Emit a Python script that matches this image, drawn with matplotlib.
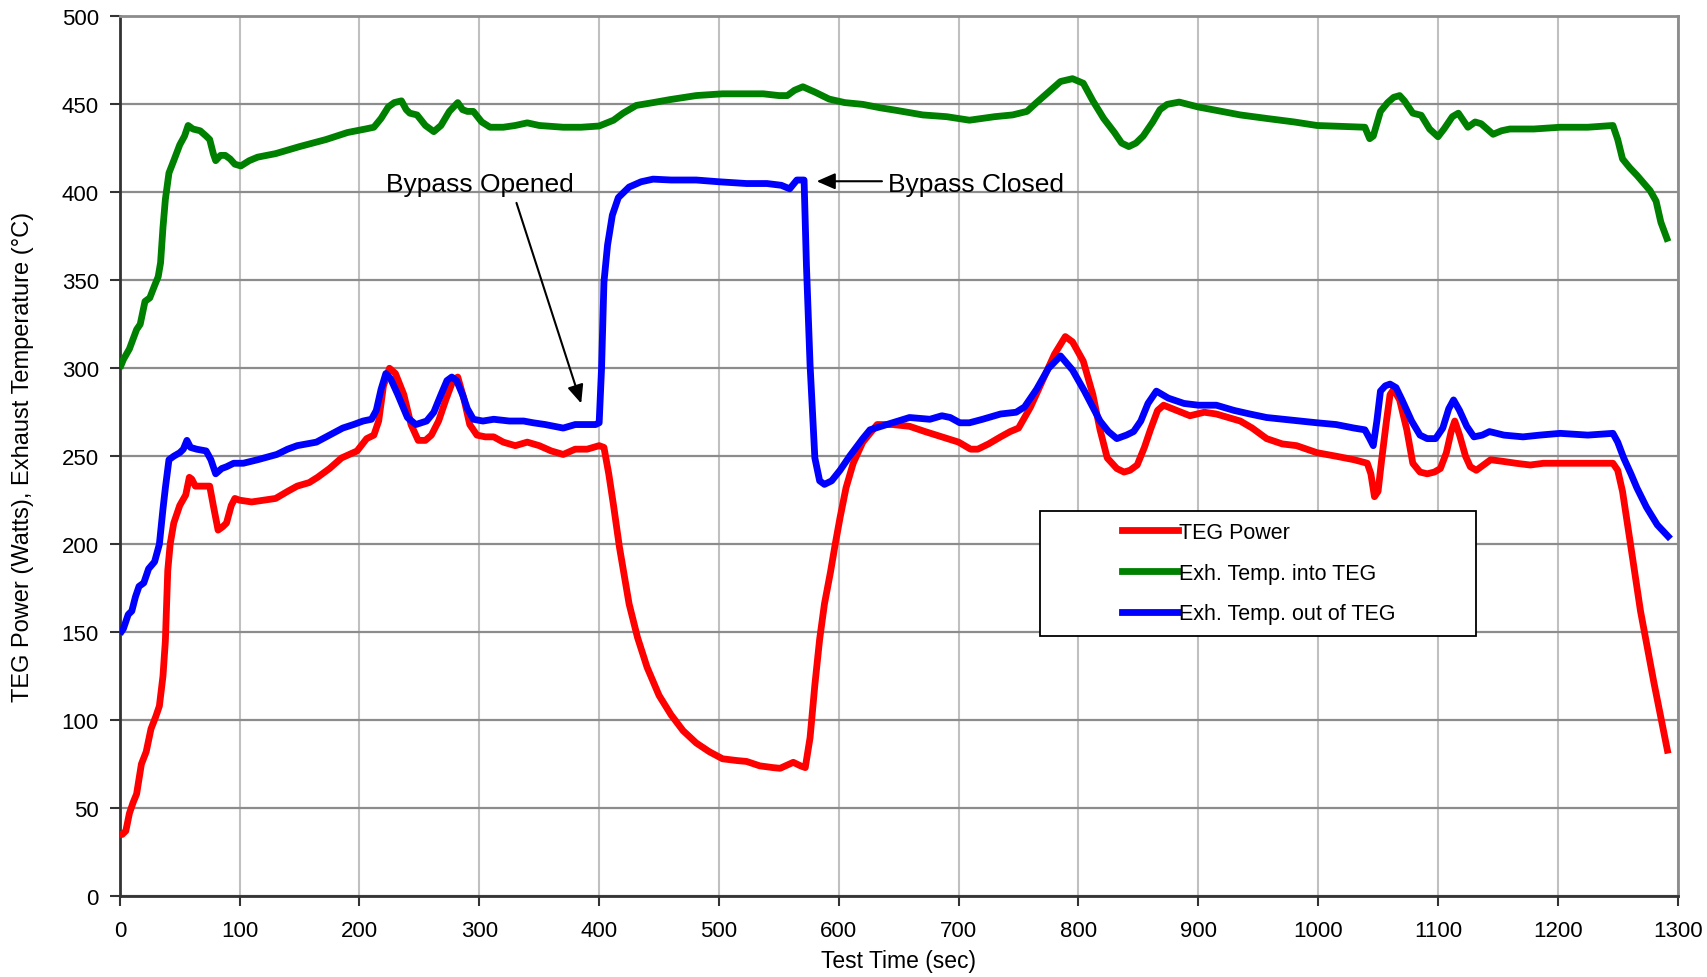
import matplotlib
matplotlib.use("Agg")
import matplotlib.pyplot as plt
from matplotlib.lines import Line2D
from matplotlib.patches import Rectangle

plt.rcParams['font.family'] = ['Liberation Sans', 'DejaVu Sans']

# TEG Power (W)
power_t = [0, 2, 5, 8, 11, 14, 18, 22, 26, 30, 33, 36, 38, 40, 42, 45, 50, 55, 58, 60,
           63, 68, 75, 78, 82, 86, 89, 93, 96, 100, 110, 120, 130, 140, 148, 158, 165, 175, 185, 198,
           206, 212, 216, 220, 225, 230, 237, 243, 249, 255, 260, 266, 272, 278, 282, 287, 292, 298, 305, 312,
           320, 330, 340, 350, 360, 370, 380, 390, 400, 404, 408, 412, 417, 425, 432, 440, 450, 460, 470, 481,
           492, 503, 515, 523, 534, 545, 551, 562, 568, 572, 576, 580, 584, 588, 593, 597, 601, 606, 612, 620,
           632, 645, 659, 672, 686, 700, 710, 716, 725, 735, 743, 750, 760, 770, 780, 789, 795, 804, 812, 818,
           824, 832, 838, 843, 849, 855, 860, 866, 871, 882, 893, 905, 915, 925, 935, 945, 957, 970, 982, 999,
           1015, 1030, 1041, 1044, 1047, 1050, 1053, 1057, 1060, 1063, 1068, 1074, 1079, 1085, 1091, 1097, 1102, 1107, 1111, 1114,
           1118, 1123, 1127, 1132, 1138, 1144, 1155, 1165, 1177, 1188, 1199, 1210, 1222, 1235, 1246, 1250, 1254, 1260, 1269, 1280,
           1292]
power_w = [35, 35, 37, 47, 53, 58, 75, 82, 95, 102, 108, 125, 145, 185, 200, 212, 222, 228, 238, 237,
           233, 233, 233, 222, 208, 210, 212, 222, 226, 225, 224, 225, 226, 230, 233, 235, 238, 243, 249, 253,
           260, 262, 270, 290, 300, 297, 285, 268, 259, 259, 262, 270, 282, 293, 295, 283, 268, 262, 261, 261,
           258, 256, 258, 256, 253, 251, 254, 254, 256, 255, 240, 222, 198, 166, 147, 130, 114, 103, 94, 87,
           82, 78, 77, 76.5, 74, 73, 72.6, 76, 74, 73, 90, 120, 146, 166, 184, 200, 215, 232, 246, 258,
           268, 268, 267, 264, 261, 258, 254, 254, 257, 261, 264, 266, 278, 293, 308, 318, 315, 304, 285, 265,
           249, 243, 241, 242, 245, 255, 265, 276, 279, 276, 273, 275, 274, 272, 270, 266, 260, 257, 256, 252,
           250, 248, 246, 240, 227, 230, 248, 270, 285, 288, 282, 265, 246, 241, 240, 241, 243, 252, 264, 270,
           262, 250, 244, 242, 245, 248, 247, 246, 245, 246, 246, 246, 246, 246, 246, 242, 230, 203, 162, 122,
           81]

# Exhaust temperature into TEG (C)
t_in_t = [0, 3, 8, 14, 17, 21, 25, 29, 32, 34, 36, 38, 41, 45, 50, 54, 57, 61, 67, 72,
          75, 78, 80, 84, 88, 92, 96, 101, 108, 115, 130, 150, 172, 190, 205, 212, 218, 224, 229, 235,
          239, 242, 248, 255, 262, 268, 275, 282, 286, 290, 295, 302, 309, 320, 330, 340, 350, 370, 385, 400,
          412, 420, 431, 445, 459, 481, 503, 520, 537, 550, 557, 563, 570, 580, 592, 605, 620, 635, 648, 670,
          690, 709, 730, 745, 757, 765, 775, 785, 795, 804, 812, 821, 830, 836, 842, 848, 854, 862, 868, 874,
          884, 900, 915, 935, 957, 980, 999, 1020, 1039, 1043, 1046, 1052, 1058, 1063, 1068, 1072, 1079, 1086, 1093, 1100,
          1105, 1112, 1117, 1122, 1125, 1131, 1136, 1146, 1153, 1160, 1180, 1202, 1225, 1246, 1250, 1254, 1260, 1266, 1272, 1277,
          1282, 1286, 1292]
t_in_c = [300, 305, 311, 322, 325, 338, 340, 347, 352, 360, 380, 396, 411, 418, 427, 432, 438, 436, 435, 432,
          430, 422, 418, 421, 421, 419, 416, 415, 418, 420, 422, 426, 430, 434, 436, 437, 442, 448.5, 451, 452,
          447, 445, 444, 438, 434.5, 438, 446, 451, 447, 446, 446, 440, 437, 437, 438, 439.5, 438, 437, 437, 437.7,
          441, 445, 449.4, 451, 452.7, 455, 456, 456, 456, 455, 455, 458, 460, 457, 453, 451, 450, 448, 446.6, 444,
          443, 441, 443, 444, 446, 451, 457, 463, 464.6, 462, 452, 442, 434, 428, 426, 428, 432, 440, 447, 450,
          451.3, 448.5, 446.6, 444, 442, 440, 438, 437.5, 437, 430.5, 432, 446, 451, 454, 455, 452, 445, 443.8, 436, 431.6,
          436, 443, 445, 440, 437, 440, 439, 433, 435, 436, 436, 437, 437, 438, 430, 419, 414, 409.7, 405, 401,
          395, 383, 372]

# Exhaust temperature out of TEG (C)
t_out_t = [0, 3, 7, 10, 13, 16, 20, 24, 29, 33, 36, 38, 41, 45, 50, 53, 56, 59, 64, 72,
           76, 80, 85, 89, 95, 103, 115, 131, 140, 148, 164, 175, 186, 195, 203, 210, 214, 218, 222, 226,
           232, 240, 247, 256, 262, 268, 273, 277, 281, 286, 290, 295, 303, 312, 325, 337, 345, 355, 370, 380,
           390, 397, 400, 402, 404, 407, 411, 416, 425, 435, 445, 460, 481, 500, 523, 540, 552, 559, 565, 571,
           573, 576, 580, 584, 588, 594, 601, 609, 620, 626, 640, 659, 676, 686, 693, 701, 709, 720, 735, 748,
           755, 765, 775, 785, 795, 805, 818, 825, 832, 840, 846, 852, 858, 865, 875, 888, 900, 915, 930, 943,
           957, 971, 985, 999, 1015, 1030, 1039, 1043, 1046, 1049, 1052, 1056, 1060, 1065, 1070, 1078, 1085, 1091, 1098, 1104,
           1109, 1113, 1118, 1124, 1130, 1137, 1143, 1155, 1171, 1185, 1202, 1225, 1246, 1250, 1255, 1261, 1266, 1274, 1283, 1294]
t_out_c = [149, 152, 160, 162, 170, 176, 178, 186, 190, 200, 220, 232, 248, 250, 252, 254, 259, 255, 254, 253,
           248, 240, 243, 244, 246, 246, 248, 251, 254, 256, 258, 262, 266, 268, 270, 271, 276, 288, 297, 294,
           285, 272, 268, 270, 275, 285, 293, 295, 293, 285, 277, 271, 270, 271, 270, 270, 269, 268, 266, 268,
           268, 268, 269, 300, 349, 370, 387, 397, 403, 406, 407.5, 407, 407, 406, 405, 405, 404, 402, 407, 407,
           358, 302, 249, 236, 234, 236, 242, 250, 260, 265, 268, 272, 271, 273, 272, 269, 269, 271, 274, 275,
           278, 288, 300, 307, 299, 287, 270, 264, 260, 262, 264, 270, 280, 287, 283, 280, 279, 279, 276, 274,
           272, 271, 270, 269, 268, 266, 265, 260, 256, 270, 287, 290, 291, 289, 282, 270, 262, 260, 260, 266,
           277, 282, 276, 267, 261, 262, 264, 262, 261, 262, 263, 262, 263, 258, 249, 240, 232, 221, 211, 203]

series = [
    (power_t, power_w, '#ff0000', 'TEG Power'),
    (t_in_t, t_in_c, '#008000', 'Exh. Temp. into TEG'),
    (t_out_t, t_out_c, '#0000ff', 'Exh. Temp. out of TEG'),
]

fig = plt.figure(figsize=(17.07, 9.78), dpi=100)
ax = fig.add_axes([0.0702, 0.0828, 0.9126, 0.8994])

for t, v, c, lab in series:
    ax.plot(t, v, color=c, lw=4.9, solid_joinstyle='round', solid_capstyle='butt', zorder=3)

ax.set_xlim(0, 1300)
ax.set_ylim(0, 500)
ax.set_xticks(range(0, 1301, 100))
ax.set_yticks(range(0, 501, 50))

ax.set_axisbelow(True)
ax.yaxis.grid(True, color='#8c8c8c', lw=1.6)
ax.xaxis.grid(True, color='#c0c0c0', lw=1.5)

for side in ['left', 'bottom']:
    ax.spines[side].set_color('#333333')
    ax.spines[side].set_linewidth(2)
for side in ['top', 'right']:
    ax.spines[side].set_color('#8c8c8c')
    ax.spines[side].set_linewidth(2)

ax.tick_params(axis='both', direction='out', length=7, width=1.5, color='#333333', labelsize=16)
ax.tick_params(axis='x', pad=10)
ax.tick_params(axis='y', pad=8)

ax.set_xlabel('Test Time (sec)', fontsize=16.5, labelpad=6)
ax.set_ylabel('TEG Power (Watts), Exhaust Temperature (\u00b0C)', fontsize=17, labelpad=20)

# annotations
ax.annotate('', xy=(385, 280), xytext=(331, 394),
            arrowprops=dict(arrowstyle='-|>,head_length=0.8,head_width=0.35', color='black',
                            lw=1.5, mutation_scale=14, shrinkA=0, shrinkB=0))
ax.text(222.5, 401, 'Bypass Opened', fontsize=19, ha='left', va='baseline')
ax.annotate('', xy=(581.5, 406.3), xytext=(636, 406.3),
            arrowprops=dict(arrowstyle='-|>,head_length=0.8,head_width=0.35', color='black',
                            lw=1.5, mutation_scale=14, shrinkA=0, shrinkB=0))
ax.text(641.4, 401, 'Bypass Closed', fontsize=19, ha='left', va='baseline')

# legend with Excel-style box
box = Rectangle((0.5905, 0.2957), 0.2803, 0.1423, transform=ax.transAxes,
                facecolor='white', edgecolor='black', lw=1.3, zorder=5)
ax.add_patch(box)
handles = [Line2D([], [], color=c, lw=4.9) for _, _, c, _ in series]
labels = [lab for _, _, _, lab in series]
leg = ax.legend(handles, labels, loc='center', bbox_to_anchor=(0.731, 0.3672),
                frameon=False, fontsize=15.5, handlelength=2.6, handletextpad=0.05,
                labelspacing=0.92, borderpad=0)
leg.set_zorder(6)

fig.savefig('out.png', dpi=100)
